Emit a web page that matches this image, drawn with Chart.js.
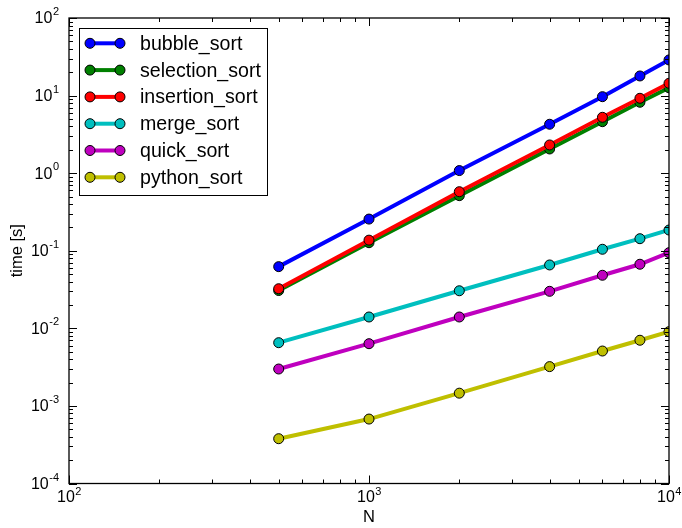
<!DOCTYPE html>
<html>
<head>
<meta charset="utf-8">
<title>Sorting time</title>
<script src="https://cdn.jsdelivr.net/npm/chart.js@4.4.0/dist/chart.umd.min.js"></script>
<style>
    html, body { margin: 0; padding: 0; background: #fff; }
    #wrap { width: 682px; height: 528px; }
</style>
</head>
<body>
<div id="wrap"><canvas id="sortChart" width="682" height="528"></canvas></div>
<script>
// Data
const sizes = [500, 1000, 2000, 4000, 6000, 8000, 10000];
const bubbleSort = [0.0624, 0.256, 1.08, 4.27, 9.68, 17.9, 28.8];
const selectionSort = [0.0307, 0.127, 0.513, 2.05, 4.61, 8.2, 12.6];
const insertionSort = [0.0324, 0.137, 0.577, 2.31, 5.25, 9.23, 14.4];
const mergeSort = [0.00653, 0.014, 0.0305, 0.0656, 0.1045, 0.143, 0.185];
const quickSort = [0.00299, 0.00634, 0.014, 0.03, 0.0483, 0.067, 0.0944];
const pythonSort = [0.000378, 0.000677, 0.00146, 0.00321, 0.0051, 0.00702, 0.00906];

const seriesNames = ['bubble_sort', 'selection_sort', 'insertion_sort', 'merge_sort', 'quick_sort', 'python_sort'];
const seriesValues = [bubbleSort, selectionSort, insertionSort, mergeSort, quickSort, pythonSort];
const seriesColors = ['#0000ff', '#008000', '#ff0000', '#00bfbf', '#bf00bf', '#bfbf00'];

// Tick labels
const xMajorTicks = [100, 1000, 10000];
const xTickExponents = ['2', '3', '4'];
const yMajorTicks = [1e-4, 1e-3, 1e-2, 1e-1, 1, 10, 100];
const yTickExponents = ['-4', '-3', '-2', '-1', '0', '1', '2'];

const FONT = "'Liberation Sans', Arial, sans-serif";

// Draw matplotlib-like frame, ticks, labels and legend
const axesPlugin = {
    id: 'axesPlugin',
    afterDraw(chart) {
        const ctx = chart.ctx;
        const area = chart.chartArea;
        const xs = chart.scales.x;
        const ys = chart.scales.y;

        ctx.save();
        ctx.strokeStyle = '#000';
        ctx.lineWidth = 1;

        // ticks on all four sides, pointing inward
        function xTick(v, len) {
            const px = Math.round(xs.getPixelForValue(v)) + 0.5;
            ctx.beginPath();
            ctx.moveTo(px, area.bottom); ctx.lineTo(px, area.bottom - len);
            ctx.moveTo(px, area.top); ctx.lineTo(px, area.top + len);
            ctx.stroke();
        }
        function yTick(v, len) {
            const py = Math.round(ys.getPixelForValue(v)) + 0.5;
            ctx.beginPath();
            ctx.moveTo(area.left, py); ctx.lineTo(area.left + len, py);
            ctx.moveTo(area.right, py); ctx.lineTo(area.right - len, py);
            ctx.stroke();
        }
        for (let d = 2; d < 4; d++) {
            for (let k = 2; k < 10; k++) xTick(k * Math.pow(10, d), 4);
        }
        for (let d = -4; d < 2; d++) {
            for (let k = 2; k < 10; k++) yTick(k * Math.pow(10, d), 4);
        }
        xMajorTicks.forEach(v => xTick(v, 8));
        yMajorTicks.forEach(v => yTick(v, 8));

        // frame
        ctx.lineWidth = 1.3;
        ctx.strokeRect(area.left, area.top, area.right - area.left, area.bottom - area.top);

        // tick labels
        ctx.fillStyle = '#000';
        ctx.textBaseline = 'middle';
        const baseFont = '16px ' + FONT;
        const expFont = '11px ' + FONT;

        xMajorTicks.forEach((v, i) => {
            const px = xs.getPixelForValue(v);
            ctx.font = baseFont;
            const w1 = ctx.measureText('10').width;
            ctx.font = expFont;
            const w2 = ctx.measureText(xTickExponents[i]).width;
            const x0 = px - (w1 + w2) / 2;
            ctx.textAlign = 'left';
            ctx.font = baseFont;
            ctx.fillText('10', x0, area.bottom + 14);
            ctx.font = expFont;
            ctx.fillText(xTickExponents[i], x0 + w1 + 0.5, area.bottom + 8);
        });

        yMajorTicks.forEach((v, i) => {
            const py = ys.getPixelForValue(v);
            const right = area.left - 10;
            ctx.font = expFont;
            const w2 = ctx.measureText(yTickExponents[i]).width;
            ctx.textAlign = 'right';
            ctx.fillText(yTickExponents[i], right, py - 6);
            ctx.font = baseFont;
            ctx.fillText('10', right - w2 - 0.5, py + 1);
        });

        // axis titles
        ctx.font = '16.5px ' + FONT;
        ctx.textAlign = 'center';
        ctx.fillText('N', (area.left + area.right) / 2, 517);
        ctx.save();
        ctx.translate(17, (area.top + area.bottom) / 2);
        ctx.rotate(-Math.PI / 2);
        ctx.fillText('time [s]', 0, 0);
        ctx.restore();

        // legend
        const box = { left: 79, top: 28, right: 267, bottom: 195 };
        ctx.fillStyle = '#fff';
        ctx.fillRect(box.left, box.top, box.right - box.left, box.bottom - box.top);
        ctx.lineWidth = 1;
        ctx.strokeStyle = '#000';
        ctx.strokeRect(box.left + 0.5, box.top + 0.5, box.right - box.left, box.bottom - box.top);

        seriesNames.forEach((name, i) => {
            const y = 43.3 + i * 26.8;
            ctx.strokeStyle = seriesColors[i];
            ctx.lineWidth = 4;
            ctx.beginPath();
            ctx.moveTo(90, y); ctx.lineTo(120, y);
            ctx.stroke();
            [90, 120].forEach(mx => {
                ctx.beginPath();
                ctx.arc(mx, y, 5, 0, Math.PI * 2);
                ctx.fillStyle = seriesColors[i];
                ctx.fill();
                ctx.lineWidth = 1;
                ctx.strokeStyle = '#000';
                ctx.stroke();
            });
            ctx.fillStyle = '#000';
            ctx.font = '19.6px ' + FONT;
            ctx.textAlign = 'left';
            ctx.textBaseline = 'middle';
            ctx.fillText(name, 140, y + 1);
        });

        ctx.restore();
    }
};

const ctx = document.getElementById('sortChart').getContext('2d');
const sortChart = new Chart(ctx, {
    type: 'line',
    data: {
        labels: sizes,
        datasets: seriesNames.map((name, i) => ({
            label: name,
            data: sizes.map((n, j) => ({ x: n, y: seriesValues[i][j] })),
            borderColor: seriesColors[i],
            backgroundColor: seriesColors[i],
            borderWidth: 4,
            pointRadius: 5,
            pointBackgroundColor: seriesColors[i],
            pointBorderColor: '#000',
            pointBorderWidth: 1,
            tension: 0,
            fill: false,
            clip: 0,
            order: seriesNames.length - i
        }))
    },
    options: {
        responsive: false,
        animation: false,
        devicePixelRatio: 1,
        layout: {
            autoPadding: false,
            padding: { left: 69, right: 13, top: 18, bottom: 44.5 }
        },
        plugins: {
            legend: { display: false },
            tooltip: { enabled: false }
        },
        scales: {
            x: {
                type: 'logarithmic',
                min: 100,
                max: 10000,
                display: false
            },
            y: {
                type: 'logarithmic',
                min: 1e-4,
                max: 100,
                display: false
            }
        }
    },
    plugins: [axesPlugin]
});
</script>
</body>
</html>
